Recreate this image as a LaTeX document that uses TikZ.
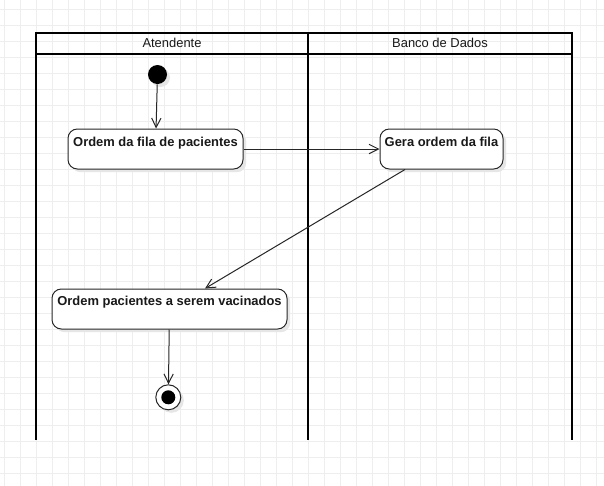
\documentclass[tikz,border=0pt]{standalone}
\usepackage{fontspec}
\setmainfont{Liberation Sans}
\usetikzlibrary{arrows.meta,calc,shadows}
\definecolor{gridcol}{HTML}{EEEEEE}
\definecolor{shadowcol}{HTML}{E6E6E6}
\begin{document}
\begin{tikzpicture}[x=0.75pt,y=-0.75pt,
  lane/.style={line width=1.5pt,black},
  act/.style={draw=black!85,line width=0.75pt,fill=white,rounded corners=7pt,
    minimum height=30pt,inner sep=0pt,
    drop shadow={shadow xshift=2.4pt,shadow yshift=-2.4pt,fill=shadowcol,opacity=1}},
  acttext/.style={font=\fontsize{9.7pt}{11pt}\selectfont\bfseries,text=black!90,inner sep=0pt,anchor=base},
  flow/.style={draw=black!85,line width=0.75pt,-{Straight Barb[length=7pt,width=7pt]}},
  head/.style={font=\fontsize{9.7pt}{11pt}\selectfont,text=black!90,inner sep=0pt,anchor=base}]
% background and grid
\fill[white] (0,0) rectangle (604,486);
\useasboundingbox (0,0) rectangle (604,486);
\foreach \i in {0,...,37} \draw[gridcol,line width=0.75pt] (4+16*\i,0) -- (4+16*\i,486);
\foreach \j in {0,...,29} \draw[gridcol,line width=0.75pt] (0,9+16*\j) -- (604,9+16*\j);
% swimlanes
\draw[lane] (36,440) -- (36,33) -- (572,33) -- (572,440);
\draw[lane] (36,54) -- (572,54);
\draw[lane] (308,33) -- (308,440);
\node[head] (h1) at (172,47) {Atendente};
\node[head] (h2) at (440,47) {Banco de Dados};
% initial
\fill[shadowcol] (160.5,77.5) circle (9.5);
\node[circle,fill=black,minimum size=14.25pt,inner sep=0pt] (init) at (157.5,74.5) {};
% activities
\node[act,minimum width=131.25pt] (a1) at (155.5,149) {};
\node[acttext] (t1) at (155.5,146.7) {Ordem da fila de pacientes};
\node[act,minimum width=92.25pt] (a2) at (441.5,149) {};
\node[acttext] (t2) at (441.5,146.7) {Gera ordem da fila};
\node[act,minimum width=176.25pt] (a3) at (169.5,309) {};
\node[acttext] (t3) at (169.5,305.7) {Ordem pacientes a serem vacinados};
% final
\fill[shadowcol] (171.3,400.3) circle (12.5);
\node[circle,draw=black!85,fill=white,line width=0.75pt,minimum size=18.75pt,inner sep=0pt] (fin) at (168.3,397.3) {};
\fill[black] (fin.center) circle (7);
% connectors
\draw[flow] (init) -- (a1);
\draw[flow] (a1) -- (a2);
\draw[flow] ($(a2.south)+(-36.5,0)$) -- ($(a3.north)+(35.5,0)$);
\draw[flow] (a3) -- (fin);
\end{tikzpicture}
\end{document}
